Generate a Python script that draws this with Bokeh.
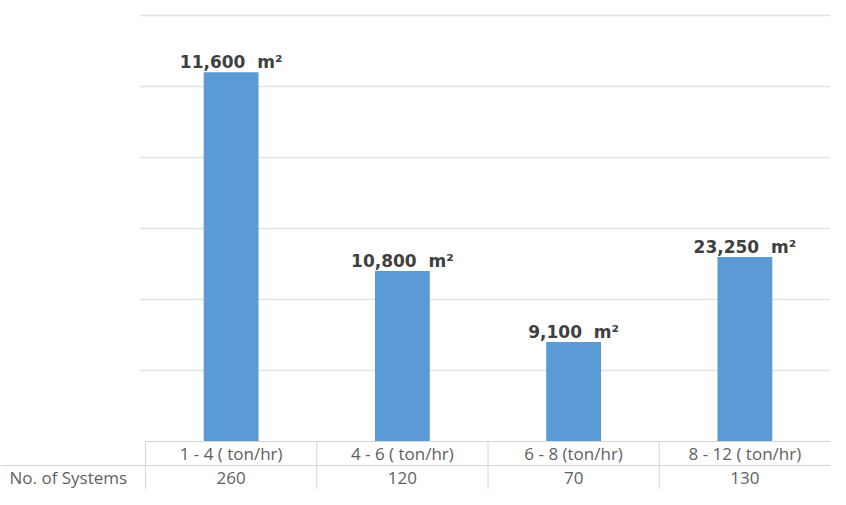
from bokeh.plotting import figure
from bokeh.models import Range1d, ColumnDataSource
from bokeh.core.properties import value
from bokeh.embed import file_html
from bokeh.resources import INLINE

# ---- data ----
categories = ["1 - 4 ( ton/hr)", "4 - 6 ( ton/hr)", "6 - 8 (ton/hr)", "8 - 12 ( ton/hr)"]
systems = [260, 120, 70, 130]
areas = ["11,600", "10,800", "9,100", "23,250"]
row_label = "No. of Systems"
grid_ticks = [50, 100, 150, 200, 250, 300]

# ---- layout ----
W, H = 830, 489
left_px = 145          # width of the left label column in pixels
col_px = (W - left_px) / len(categories)
top_px = 15            # pixel position of the 300 gridline
base_px = 441          # pixel position of the baseline
y_top_val = 300
ppu = (base_px - top_px) / y_top_val
y_max = y_top_val + top_px / ppu
y_min = y_max - H / ppu
row_h = (H - base_px) / 2 / ppu
x_min = -left_px / col_px
n = len(categories)

xs = [i + 0.5 for i in range(n)]
src = ColumnDataSource(dict(
    x=xs, top=systems,
    lab=[f"{a}\u00a0\u00a0m\u00b2" for a in areas],
    cat=categories,
    cnt=[str(s) for s in systems],
    y_cat=[-row_h / 2] * n,
    y_cnt=[-1.5 * row_h] * n,
))

p = figure(width=W, height=H, output_backend="svg", toolbar_location=None,
           x_range=Range1d(x_min, n), y_range=Range1d(y_min, y_max),
           x_axis_type=None, y_axis_type=None, min_border=0,
           outline_line_color=None, background_fill_color="white")
p.grid.visible = False

# gridlines
p.segment(x0=[-0.03] * len(grid_ticks), x1=[n] * len(grid_ticks), y0=grid_ticks, y1=grid_ticks,
          line_color="#e3e3e3", line_width=1.5)

# bars
p.vbar(x="x", top="top", bottom=0, width=0.32, source=src, fill_color="#5b9bd5", line_color=None)

# bar labels
p.text(x="x", y="top", text="lab", source=src, text_align="center", text_baseline="alphabetic",
       y_offset=-10, text_font=value("DejaVu Sans"), text_font_size="17px", text_font_style="bold",
       text_color="#404040")

# table lines
tcol = "#d6d6d6"
p.segment(x0=[0, x_min], x1=[n, n], y0=[0, -row_h], y1=[0, -row_h], line_color=tcol, line_width=1)
p.segment(x0=list(range(n)), x1=list(range(n)), y0=[0] * n, y1=[-2 * row_h] * n,
          line_color=tcol, line_width=1)

# table texts
tfont = value("Open Sans")
p.text(x="x", y="y_cat", text="cat", source=src, text_align="center", text_baseline="middle",
       text_font=tfont, text_font_size="17px", text_color="#5f5f5f")
p.text(x="x", y="y_cnt", text="cnt", source=src, text_align="center", text_baseline="middle",
       text_font=tfont, text_font_size="17px", text_color="#5f5f5f")
p.text(x=[x_min], y=[-1.5 * row_h], text=[row_label], text_align="left", text_baseline="middle",
       x_offset=9, text_font=tfont, text_font_size="17px", text_color="#5f5f5f")

open("out.html", "w").write(file_html(p, INLINE))
